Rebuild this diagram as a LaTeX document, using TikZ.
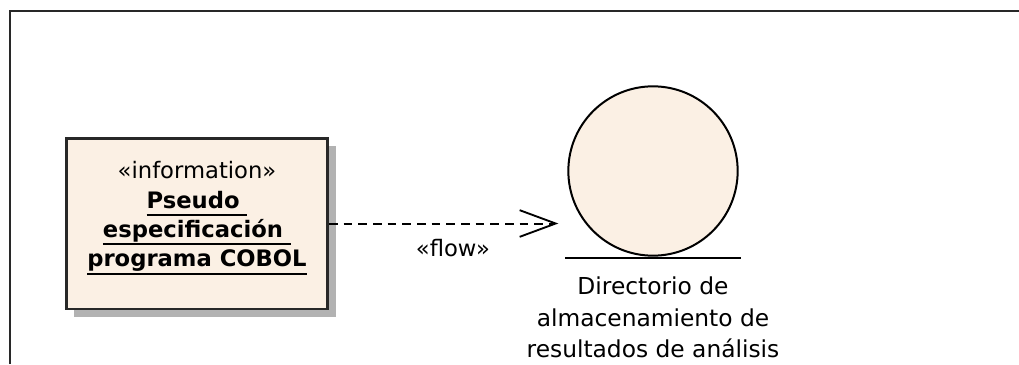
\documentclass[tikz,border=0pt]{standalone}
\usepackage{fontspec}
\setmainfont{DejaVu Sans}
\usetikzlibrary{arrows.meta, positioning, shadows}
\definecolor{elemfill}{RGB}{251,240,228}
\definecolor{edgegray}{RGB}{40,40,40}
\newcommand{\thickul}[1]{\setbox0=\hbox{#1}\dp0=4pt\relax\vtop{\box0\kern0.4pt\hrule height 1.4pt}}
\tikzset{
    % element looks as in the modelling tool
    infobox/.style = {rectangle, draw=edgegray, line width=2pt, fill=elemfill, minimum width=196pt, minimum height=128pt, drop shadow={shadow xshift=6pt, shadow yshift=-6pt, fill=black!30, opacity=1}},
    entity/.style = {circle, draw=black, line width=1.5pt, fill=elemfill, minimum size=127pt, inner sep=0pt},
    elemtext/.style = {align=center, inner sep=0pt, text=black},
    flowarrow/.style = {line width=1.5pt, dash pattern=on 6.5pt off 4.5pt, -{Straight Barb[length=27pt,width=20pt,line width=1.4pt]}, shorten >=6.75pt}
}
\begin{document}
\begin{tikzpicture}[x=0.75pt, y=-0.75pt]
\useasboundingbox (0,0) rectangle (1019,364);

% Frame
\draw[line width=2pt, draw=edgegray] (10,364) -- (10,11) -- (1019,11);

% Nodes
\node[infobox] (info) at (197,223.5) {};
\node[elemtext, font=\fontsize{17}{22}\selectfont] (infotext) at ([yshift=4pt]info.center) {«information»\\ \textbf{\thickul{Pseudo\ }}\\ \textbf{\thickul{especificación\ }}\\ \textbf{\thickul{programa COBOL}}};
\node[entity] (store) at (653,171) {};
\node[elemtext, font=\fontsize{17.5}{23.5}\selectfont, below=15pt of store] (storelabel) {Directorio de\\almacenamiento de\\resultados de análisis};

% Ground line
\draw[line width=1.5pt] ([shift={(-88,1)}]store.south) -- ([shift={(88,1)}]store.south);

% Arrows
\draw[flowarrow] (info.east) -- node[elemtext, below=11pt, pos=0.52, font=\fontsize{17}{20}\selectfont] {«flow»} (info.east -| store.west);

\end{tikzpicture}
\end{document}
